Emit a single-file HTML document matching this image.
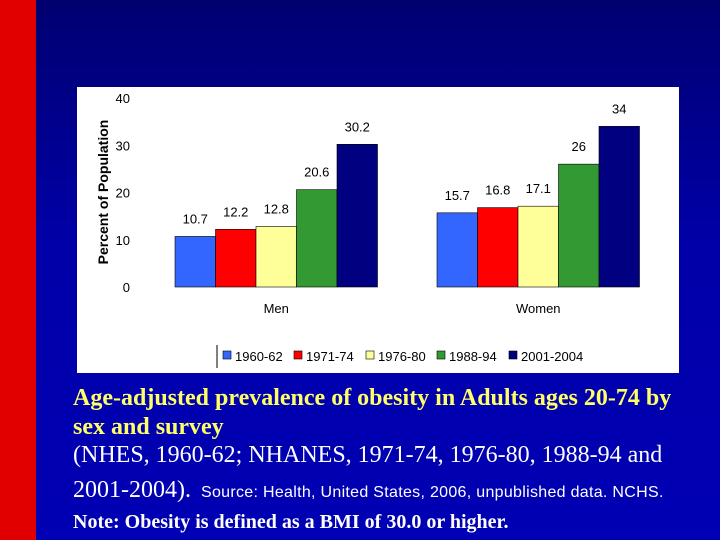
<!DOCTYPE html>
<html><head><meta charset="utf-8"><style>
body{margin:0;width:720px;height:540px;overflow:hidden;background:linear-gradient(#000070,#0000a8 45%,#0000b4);position:relative;font-family:"Liberation Serif",serif}
.t{position:absolute;left:73px;white-space:nowrap;line-height:1}
</style></head><body>
<div style="position:absolute;left:0;top:0;width:36px;height:540px;background:#e00000"></div>
<svg width="720" height="540" style="position:absolute;left:0;top:0" font-family="Liberation Sans, sans-serif">
<rect x="77" y="87" width="602" height="286" fill="#fff"/>
<g id="g"></g>
</svg>
<div class="t" style="top:386px;color:#ffff66;font-weight:bold;font-size:24px">Age-adjusted prevalence of obesity in Adults ages 20-74 by</div>
<div class="t" style="top:415px;color:#ffff66;font-weight:bold;font-size:24px">sex and survey</div>
<div class="t" style="top:443px;color:#fff;font-size:24px">(NHES, 1960-62; NHANES, 1971-74, 1976-80, 1988-94 and</div>
<div class="t" style="top:478px;color:#fff;font-size:24px">2001-2004). <span style="font-family:'Liberation Sans',sans-serif;font-size:16px;margin-left:4px;letter-spacing:0.3px">Source: Health, United States, 2006, unpublished data. NCHS.</span></div>
<div class="t" style="top:512px;color:#fff;font-weight:bold;font-size:20px">Note: Obesity is defined as a BMI of 30.0 or higher.</div>
<script>
const categories=["Men","Women"];
const seriesNames=["1960-62","1971-74","1976-80","1988-94","2001-2004"];
const men=[10.7,12.2,12.8,20.6,30.2];
const women=[15.7,16.8,17.1,26,34];
const valueLabels=[["10.7","12.2","12.8","20.6","30.2"],["15.7","16.8","17.1","26","34"]];
const yTicks=[0,10,20,30,40];
const colors=["#3366ff","#ff0000","#ffff99","#339933","#000080"];
const NS="http://www.w3.org/2000/svg",g=document.getElementById('g');
function y(v){return 287-v*4.725;}
function groupX(i){return [175,437][i];}
const bw=40.5;
function mk(t,a,txt){const e=document.createElementNS(NS,t);for(const k in a)e.setAttribute(k,a[k]);if(txt!=null)e.textContent=txt;g.appendChild(e);return e;}
yTicks.forEach(v=>{const e=mk('text',{x:130,y:y(v)+5,'text-anchor':'end','font-size':13,fill:'#000'},String(v));

});
const yt=mk('text',{x:0,y:0,transform:'translate(108,192) rotate(-90)','text-anchor':'middle','font-size':14,'font-weight':'bold',fill:'#000'},'Percent of Population');


[men,women].forEach((vals,ci)=>{
 vals.forEach((v,si)=>{
  const x=groupX(ci)+si*bw;
  const r=mk('rect',{x:x,y:y(v),width:bw,height:287-y(v),fill:colors[si],stroke:'#000','stroke-width':0.6});
  
  
  const l=mk('text',{x:x+bw/2,y:y(v)-13,'text-anchor':'middle','font-size':13,fill:'#000'},valueLabels[ci][si]);
  
  
 });
 const c=mk('text',{x:groupX(ci)+bw*2.5,y:313,'text-anchor':'middle','font-size':13,fill:'#000'},categories[ci]);
 
 
});
mk('line',{x1:217,y1:345,x2:217,y2:368,stroke:'#000'});
const lx=[223,294,366,437,509];
seriesNames.forEach((n,i)=>{
 const s=mk('rect',{x:lx[i],y:351,width:8,height:8,fill:colors[i],stroke:'#000','stroke-width':0.6});
 
 
 const t=mk('text',{x:lx[i]+12,y:361,'font-size':13,fill:'#000'},n);
 
 
});
</script>
</body></html>
